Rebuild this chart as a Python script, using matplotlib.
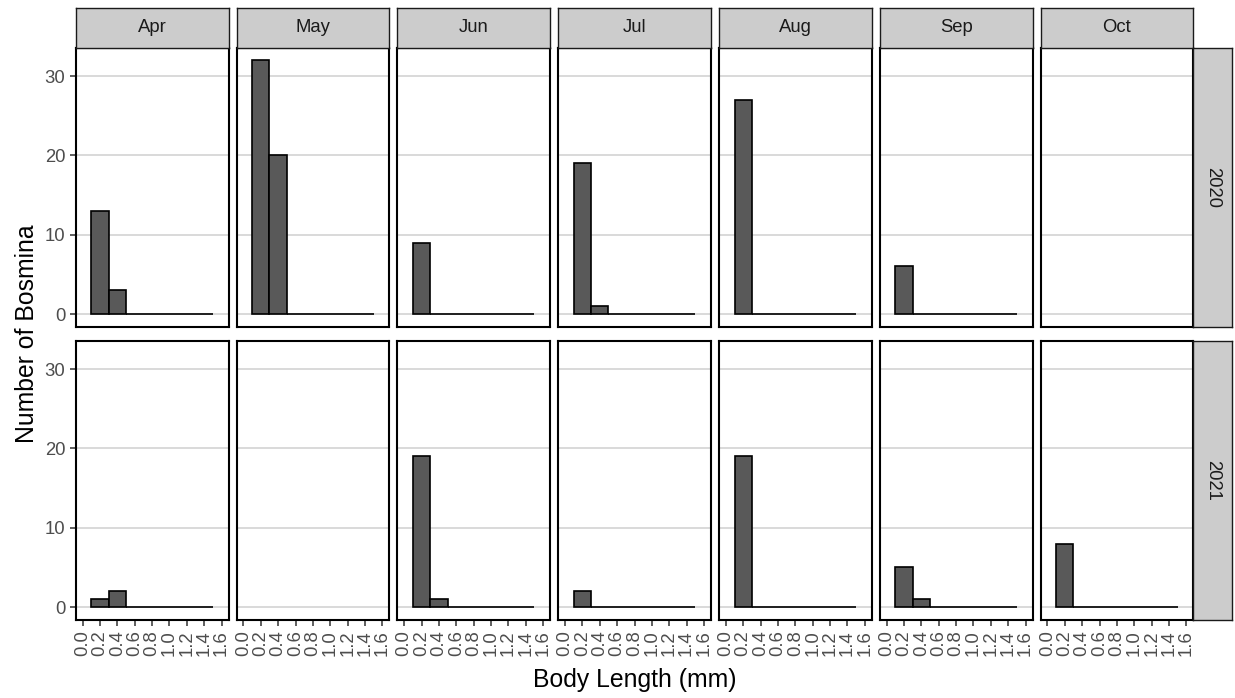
import numpy as np
import matplotlib
matplotlib.use('Agg')
import matplotlib.pyplot as plt

plt.rcParams['font.family'] = ['Liberation Sans', 'DejaVu Sans']

# ─── Datos ────────────────────────────────────────────────────────────────────
months = ['Apr', 'May', 'Jun', 'Jul', 'Aug', 'Sep', 'Oct']
years = ['2020', '2021']
bin_edges = [0.1, 0.3, 0.5, 0.7, 0.9, 1.1, 1.3, 1.5]

# conteos por clase de talla (una lista por mes; vacía = sin muestra)
counts_2020 = [
    [13, 3, 0, 0, 0, 0, 0],
    [32, 20, 0, 0, 0, 0, 0],
    [9, 0, 0, 0, 0, 0, 0],
    [19, 1, 0, 0, 0, 0, 0],
    [27, 0, 0, 0, 0, 0, 0],
    [6, 0, 0, 0, 0, 0, 0],
    [],
]
counts_2021 = [
    [1, 2, 0, 0, 0, 0, 0],
    [],
    [19, 1, 0, 0, 0, 0, 0],
    [2, 0, 0, 0, 0, 0, 0],
    [19, 0, 0, 0, 0, 0, 0],
    [5, 1, 0, 0, 0, 0, 0],
    [8, 0, 0, 0, 0, 0, 0],
]
counts = [counts_2020, counts_2021]

x_ticks = [0.0, 0.2, 0.4, 0.6, 0.8, 1.0, 1.2, 1.4, 1.6]
y_ticks = [0, 10, 20, 30]

# ─── Layout (píxeles) ─────────────────────────────────────────────────────────
W, H = 1235, 698
col_left0, col_step, col_w = 75.7, 160.8, 152.8
row_tops = [47.7, 340.7]
row_h = 279.0
strip_top = 8.3
strip_r_w = 38.7

fig = plt.figure(figsize=(W / 100, H / 100), dpi=100)


def px_axes(x0, y0, w, h):
    return fig.add_axes([x0 / W, 1 - (y0 + h) / H, w / W, h / H])


tick_col = '#333333'
lab_col = '#4D4D4D'

for r, year in enumerate(years):
    for c, month in enumerate(months):
        x0 = col_left0 + c * col_step
        ax = px_axes(x0, row_tops[r], col_w, row_h)
        ax.set_xlim(-0.08, 1.68)
        ax.set_ylim(-1.6, 33.6)
        ax.set_axisbelow(True)
        ax.yaxis.grid(True, color='#D3D3D3', lw=1.2)
        for s in ax.spines.values():
            s.set_linewidth(1.5)
            s.set_color('black')

        data = counts[r][c]
        if data:
            ax.bar(bin_edges[:-1], data, width=np.diff(bin_edges), align='edge',
                   color='#595959', edgecolor='black', linewidth=1.2, zorder=2)

        ax.set_xticks(x_ticks)
        ax.set_yticks(y_ticks)
        ax.tick_params(axis='both', colors=tick_col, labelcolor=lab_col,
                       length=4.5, width=1.1, labelsize=13.3, pad=3)
        if r == 1:
            ax.set_xticklabels([f'{v:.1f}' for v in x_ticks], rotation=90)
        else:
            ax.tick_params(axis='x', bottom=False, labelbottom=False)
        if c == 0:
            ax.set_yticklabels([str(v) for v in y_ticks])
        else:
            ax.tick_params(axis='y', left=False, labelleft=False)

        # tira superior con el mes
        if r == 0:
            st = px_axes(x0, strip_top, col_w, row_tops[0] - strip_top)
            st.set_facecolor('#CCCCCC')
            st.set_xticks([])
            st.set_yticks([])
            for s in st.spines.values():
                s.set_linewidth(1.0)
                s.set_color('#1A1A1A')
            st.text(0.5, 0.5, month, ha='center', va='center',
                    fontsize=13.3, color='#1A1A1A', transform=st.transAxes)

    # tira lateral con el año
    sx0 = col_left0 + 6 * col_step + col_w
    sr = px_axes(sx0, row_tops[r], strip_r_w, row_h)
    sr.set_facecolor('#CCCCCC')
    sr.set_xticks([])
    sr.set_yticks([])
    for s in sr.spines.values():
        s.set_linewidth(1.0)
        s.set_color('#1A1A1A')
    sr.text(0.5, 0.5, year, ha='center', va='center', rotation=270,
            fontsize=13.3, color='#1A1A1A', transform=sr.transAxes)

# títulos de ejes
panels_cx = (col_left0 + (col_left0 + 6 * col_step + col_w)) / 2
fig.text(panels_cx / W, 1 - 680 / H, 'Body Length (mm)', ha='center', va='center',
         fontsize=17.8, color='black')
fig.text(27 / W, 1 - 334 / H, 'Number of Bosmina', ha='center', va='center',
         rotation=90, fontsize=17.8, color='black')

fig.savefig('out.png', dpi=100, facecolor='white')
